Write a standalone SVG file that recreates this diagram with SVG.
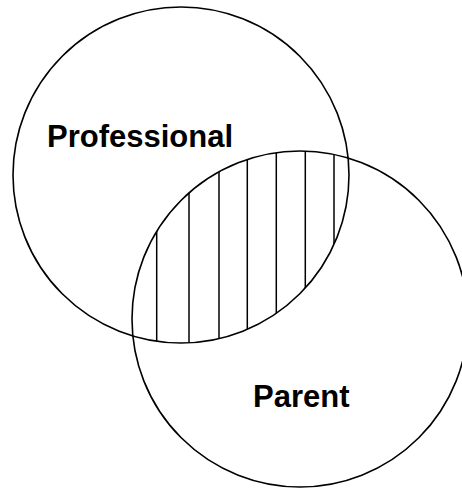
<svg xmlns="http://www.w3.org/2000/svg" width="462" height="491" viewBox="0 0 462 491">
  <style>
    .ring { fill: none; stroke: #000; stroke-width: 1.6; }
    .hatch { stroke: #000; stroke-width: 1.5; }
    .label { font-family: "Liberation Sans", Arial, sans-serif; font-weight: bold; font-size: 31px; fill: #000; }
  </style>
  <defs>
    <clipPath id="clipA"><circle cx="181" cy="175" r="168"/></clipPath>
    <clipPath id="clipB"><circle cx="300" cy="319" r="168"/></clipPath>
  </defs>
  <rect width="462" height="491" fill="#fff"/>
  <g id="overlap">
    <g clip-path="url(#clipA)">
      <g clip-path="url(#clipB)">
        <line class="hatch" x1="156.7" y1="140" x2="156.7" y2="360"/>
        <line class="hatch" x1="189" y1="140" x2="189" y2="360"/>
        <line class="hatch" x1="219" y1="140" x2="219" y2="360"/>
        <line class="hatch" x1="247.3" y1="140" x2="247.3" y2="360"/>
        <line class="hatch" x1="276.3" y1="140" x2="276.3" y2="360"/>
        <line class="hatch" x1="305.3" y1="140" x2="305.3" y2="360"/>
        <line class="hatch" x1="334" y1="140" x2="334" y2="360"/>
      </g>
    </g>
  </g>
  <g id="professional">
    <circle class="ring" cx="181" cy="175" r="168"/>
    <text class="label" x="47" y="147">Professional</text>
  </g>
  <g id="parent">
    <circle class="ring" cx="300" cy="319" r="168"/>
    <text class="label" x="253" y="407">Parent</text>
  </g>
  <g id="connectors"/>
</svg>
